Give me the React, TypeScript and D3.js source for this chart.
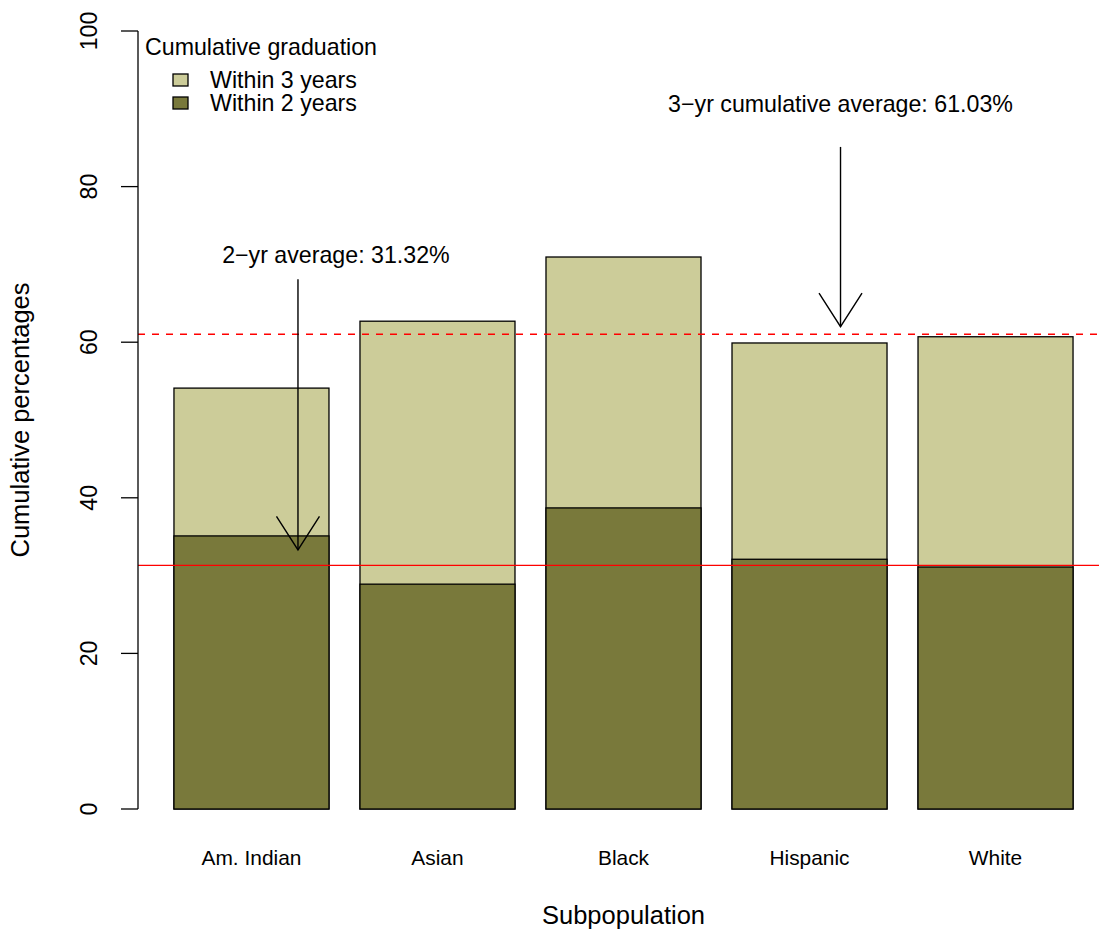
import React from "react";
import * as d3 from "d3";

const categories = ["Am. Indian", "Asian", "Black", "Hispanic", "White"];
const within3 = [54.1, 62.7, 70.95, 59.9, 60.7];
const within2 = [35.1, 28.9, 38.7, 32.1, 31.1];
const yTicks = [0, 20, 40, 60, 80, 100];
const avg2 = 31.32;
const avg3 = 61.03;
const legendLabels = ["Within 3 years", "Within 2 years"];
// annotations in plot (usr) coordinates
const annotations = [
  { label: "2\u2212yr average: 31.32%", tx: 1.245, ty: 70.2, ax: 1.0, y0: 68.1, y1: 33.3 },
  { label: "3\u2212yr cumulative average: 61.03%", tx: 4.5, ty: 89.6, ax: 4.5, y0: 85.1, y1: 62.0 },
];

const W = 1099;
const H = 929;
const FONT = "'Liberation Sans', Arial, Helvetica, sans-serif";
const LIGHT = "#CCCC99";
const DARK = "#79793B";

export default function App() {
  const x = d3.scaleLinear().domain([-0.032, 6.232]).range([138, 1109]);
  const y = d3.scaleLinear().domain([0, 100]).range([809, 31]);
  const barW = 1.0;
  const space = 0.2;
  const barLeft = (i: number) => space + i * (barW + space);
  const headDx = 21.5;
  const headDy = 33.5;

  return (
    <svg width={W} height={H} style={{ position: "absolute", left: 0, top: 0, background: "#fff" }} fontFamily={FONT}>
      {/* bars */}
      {categories.map((c, i) => (
        <g key={c}>
          <rect x={x(barLeft(i))} y={y(within3[i])} width={x(barLeft(i) + barW) - x(barLeft(i))}
            height={y(0) - y(within3[i])} fill={LIGHT} stroke="#000" strokeWidth={1.3} />
          <rect x={x(barLeft(i))} y={y(within2[i])} width={x(barLeft(i) + barW) - x(barLeft(i))}
            height={y(0) - y(within2[i])} fill={DARK} stroke="#000" strokeWidth={1.3} />
          <text x={x(barLeft(i) + barW / 2)} y={865} textAnchor="middle" fontSize={20.9} fill="#000">{c}</text>
        </g>
      ))}

      {/* average lines */}
      <line x1={138} x2={W} y1={y(avg2)} y2={y(avg2)} stroke="#ff0000" strokeWidth={1.3} />
      <line x1={138} x2={W} y1={y(avg3)} y2={y(avg3)} stroke="#ff0000" strokeWidth={1.5} strokeDasharray="7,7" />

      {/* arrows and annotations */}
      {annotations.map((a) => (
        <g key={a.label}>
          <text x={x(a.tx)} y={y(a.ty)} textAnchor="middle" fontSize={23.2} fill="#000">{a.label}</text>
          <line x1={x(a.ax)} x2={x(a.ax)} y1={y(a.y0)} y2={y(a.y1)} stroke="#000" strokeWidth={1.4} />
          <polyline
            points={`${x(a.ax) - headDx},${y(a.y1) - headDy} ${x(a.ax)},${y(a.y1)} ${x(a.ax) + headDx},${y(a.y1) - headDy}`}
            fill="none" stroke="#000" strokeWidth={1.4} />
        </g>
      ))}

      {/* y axis */}
      <line x1={138} x2={138} y1={y(0)} y2={y(100)} stroke="#000" strokeWidth={1.3} />
      {yTicks.map((t) => (
        <g key={t}>
          <line x1={121} x2={138} y1={y(t)} y2={y(t)} stroke="#000" strokeWidth={1.3} />
          <text transform={`translate(97,${y(t)}) rotate(-90)`} textAnchor="middle" fontSize={23.2} fill="#000">{t}</text>
        </g>
      ))}
      <text transform={`translate(29,420) rotate(-90)`} textAnchor="middle" fontSize={25.5} fill="#000">Cumulative percentages</text>
      <text x={x(3.1)} y={924} textAnchor="middle" fontSize={25.5} fill="#000">Subpopulation</text>

      {/* legend */}
      <text x={145} y={55} fontSize={23.2} fill="#000">Cumulative graduation</text>
      {legendLabels.map((l, i) => (
        <g key={l}>
          <rect x={173} y={74 + i * 23} width={15} height={12} fill={i === 0 ? LIGHT : DARK} stroke="#000" strokeWidth={1.3} />
          <text x={210} y={88 + i * 23} fontSize={23.2} fill="#000">{l}</text>
        </g>
      ))}
    </svg>
  );
}
